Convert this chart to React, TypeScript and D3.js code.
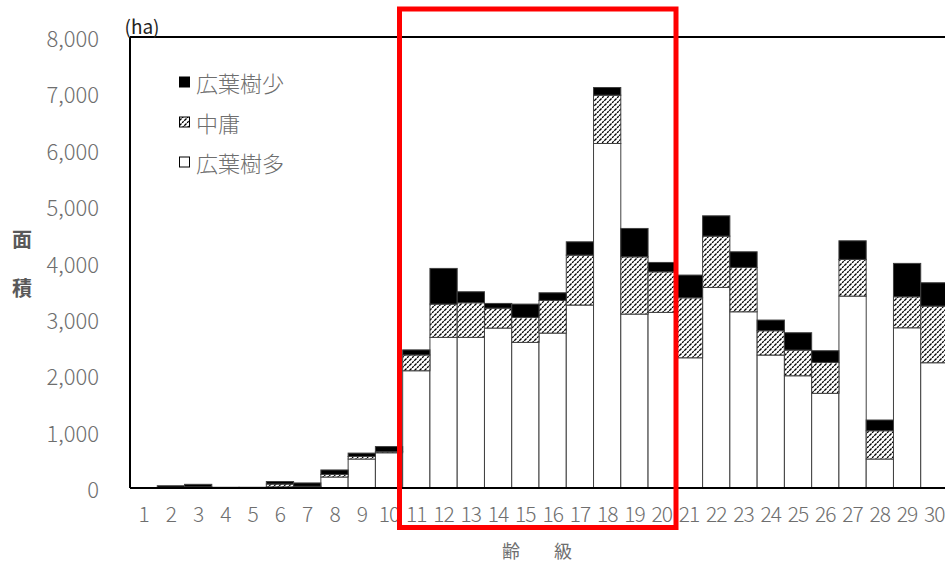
import React from "react";
import * as d3 from "d3";

const classes = ["1","2","3","4","5","6","7","8","9","10","11","12","13","14","15","16","17","18","19","20","21","22","23","24","25","26","27","28","29","30"];
const broadMany = [0,5,10,5,5,20,15,195,514,625,2080,2672,2672,2837,2583,2748,3245,6111,3085,3115,2310,3558,3126,2358,1991,1679,3404,514,2842,2222];
const medium = [0,5,10,3,3,50,15,45,45,20,280,590,614,354,443,579,886,857,1016,720,1064,910,787,432,456,549,651,502,550,1005];
const broadFew = [0,30,45,5,5,45,60,80,60,90,90,633,195,83,236,136,236,136,503,166,403,360,277,189,307,207,330,190,592,414];
const yTicks = [0,1000,2000,3000,4000,5000,6000,7000,8000];
const seriesKeys = ["many","mid","few"];
const legendItems = [
  { key: "few", label: "広葉樹少" },
  { key: "mid", label: "中庸" },
  { key: "many", label: "広葉樹多" },
];

const W = 945, H = 562;
const L = 130, R = 948, T = 37, B = 488;
const FONT = "'Noto Sans CJK JP', 'Noto Sans', sans-serif";
const GRAY = "#6e6e6e";

export default function App() {
  const rows = classes.map((c, i) => ({ c, many: broadMany[i], mid: medium[i], few: broadFew[i] }));
  const stack = d3.stack<any>().keys(seriesKeys)(rows);
  const x = d3.scaleBand<string>().domain(classes).range([L, R]).padding(0);
  const y = d3.scaleLinear().domain([0, 8000]).range([B, T]);
  const fillOf = (k: string) => (k === "few" ? "#000" : k === "mid" ? "url(#hatch)" : "#fff");
  const fmt = d3.format(",");

  return (
    <svg width={W} height={H} style={{ position: "absolute", left: 0, top: 0, background: "#fff" }} fontFamily={FONT}>
      <defs>
        <pattern id="hatch" patternUnits="userSpaceOnUse" width={5} height={5}>
          <rect width={5} height={5} fill="#fff" />
          <path d="M-1,1 l2,-2 M0,5 l5,-5 M4,6 l2,-2" stroke="#000" strokeWidth={1.3} strokeDasharray="2.2,0.8" />
        </pattern>
      </defs>
      <rect x={0} y={0} width={W} height={H} fill="#fff" />
      {stack.map((s) => (
        <g key={s.key}>
          {s.map((d, i) => {
            const h = y(d[0]) - y(d[1]);
            if (h <= 0) return null;
            return (
              <rect key={i} x={x(classes[i])!} y={y(d[1])} width={x.bandwidth()} height={h}
                fill={fillOf(s.key)} stroke="#404040" strokeWidth={1} />
            );
          })}
        </g>
      ))}
      {/* frame */}
      <line x1={L} x2={L} y1={T} y2={B} stroke="#000" strokeWidth={2} />
      <line x1={L} x2={R} y1={T} y2={T} stroke="#000" strokeWidth={2} />
      <line x1={L} x2={R} y1={B} y2={B} stroke="#000" strokeWidth={2} />
      {/* y ticks */}
      {yTicks.map((t) => (
        <text key={t} x={99} y={y(t)} textAnchor="end" dominantBaseline="central" fontSize={22} fontWeight={300} fill={GRAY}>
          {fmt(t)}
        </text>
      ))}
      {/* x ticks */}
      {classes.map((c) => (
        <text key={c} x={x(c)! + x.bandwidth() / 2} y={513} textAnchor="middle" dominantBaseline="central" fontSize={21} fontWeight={300} fill={GRAY} letterSpacing={-1}>
          {c}
        </text>
      ))}
      <text x={142} y={25} textAnchor="middle" dominantBaseline="central" fontSize={19} fill="#222">(ha)</text>
      <text x={22} y={238} textAnchor="middle" dominantBaseline="central" fontSize={20} fontWeight="bold" fill="#595959">面</text>
      <text x={22} y={287} textAnchor="middle" dominantBaseline="central" fontSize={20} fontWeight="bold" fill="#595959">積</text>
      <text x={511} y={550} textAnchor="middle" dominantBaseline="central" fontSize={18} fill={GRAY}>齢</text>
      <text x={563} y={550} textAnchor="middle" dominantBaseline="central" fontSize={18} fill={GRAY}>級</text>
      {/* legend */}
      {legendItems.map((it, i) => {
        const cy = 82 + i * 40;
        return (
          <g key={it.key}>
            <rect x={179.5} y={cy - 5} width={10} height={10} fill={fillOf(it.key)} stroke="#000" strokeWidth={1} />
            <text x={196} y={cy} dominantBaseline="central" fontSize={22} fontWeight={300} fill={GRAY}>{it.label}</text>
          </g>
        );
      })}
      {/* highlight */}
      <rect x={399.5} y={9} width={276.5} height={518.5} fill="none" stroke="#ff0000" strokeWidth={5} />
    </svg>
  );
}
